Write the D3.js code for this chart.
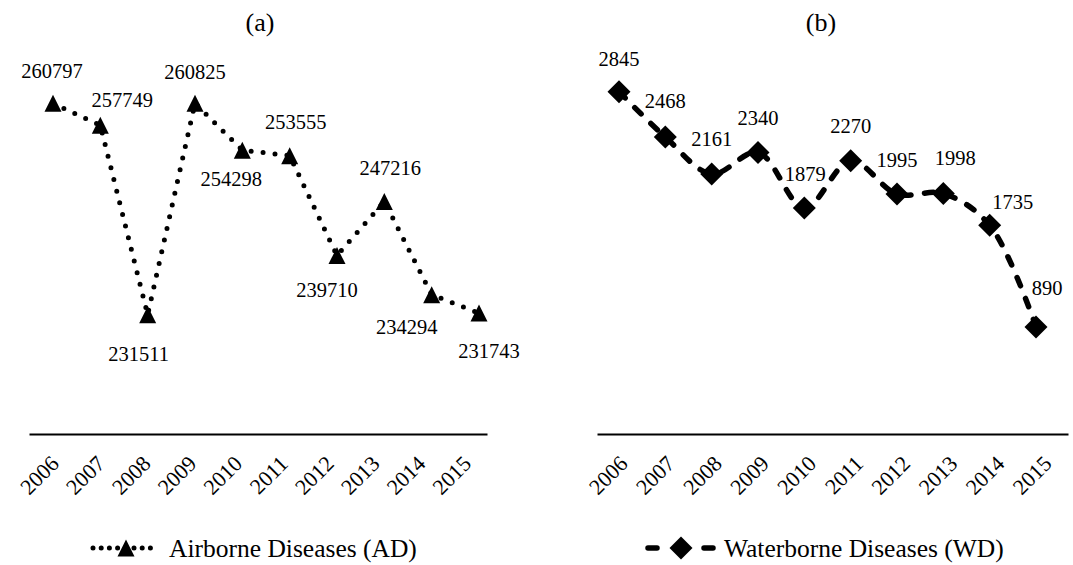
<!DOCTYPE html>
<html>
<head>
<meta charset="utf-8">
<script src="https://cdn.jsdelivr.net/npm/d3@7"></script>
<style>
  body { margin: 0; background: #fff; }
  svg { display: block; }
  svg text { font-family: "Liberation Serif", "Times New Roman", serif !important; }
</style>
</head>
<body>
<svg id="svg" width="1073" height="565"></svg>
<script>
// data
const years = ['2006', '2007', '2008', '2009', '2010', '2011', '2012', '2013', '2014', '2015'];
const airborne = [260797, 257749, 231511, 260825, 254298, 253555, 239710, 247216, 234294, 231743];
const waterborne = [2845, 2468, 2161, 2340, 1879, 2270, 1995, 1998, 1735, 890];
const airborneDomain = [215000, 265000];
const waterborneDomain = [0, 3000];

const serifFont = '"Liberation Serif", "Times New Roman", serif';
const svg = d3.select('#svg').style('font-family', serifFont);
const axisY = 434;
const topY = 73;

const trianglePath = 'M0,-8.5L8.5,8.5L-8.5,8.5Z';
const diamondPath = 'M0,-11.5L11.5,0L0,11.5L-11.5,0Z';

function drawPanel(cfg) {
  const g = svg.append('g');

  const xTick = d3.scalePoint().domain(years).range(cfg.axisRange).padding(0.5);
  const xPoint = d3.scalePoint().domain(years).range(cfg.pointRange);
  const y = d3.scaleLinear().domain(cfg.domain).range([axisY, topY]);

  // title
  g.append('text')
    .attr('x', cfg.titleX)
    .attr('y', 31)
    .attr('text-anchor', 'middle')
    .style('font-family', serifFont)
    .style('font-size', '26px')
    .text(cfg.title);

  // category axis
  const axis = g.append('g')
    .attr('transform', `translate(0,${axisY})`)
    .call(d3.axisBottom(xTick).tickSize(0).tickSizeOuter(0));
  axis.attr('font-family', null).attr('font-size', null);
  axis.select('.domain').attr('stroke', '#000').attr('stroke-width', 2);
  axis.selectAll('.tick text')
    .attr('y', null)
    .attr('dy', null)
    .attr('fill', '#000')
    .attr('text-anchor', 'end')
    .style('font-family', serifFont)
    .style('font-size', '22px')
    .attr('transform', 'translate(8,31) rotate(-45)');

  const pts = cfg.values.map((v, i) => ({year: years[i], value: v, off: cfg.labelOffsets[i]}));

  const line = d3.line()
    .x(d => xPoint(d.year))
    .y(d => y(d.value))
    .curve(cfg.curve);

  g.append('path')
    .datum(pts)
    .attr('d', line)
    .attr('fill', 'none')
    .attr('stroke', '#000')
    .attr('stroke-width', cfg.strokeWidth)
    .attr('stroke-linecap', 'round')
    .attr('stroke-dasharray', cfg.dash);

  g.selectAll('.marker')
    .data(pts)
    .enter()
    .append('path')
    .attr('class', 'marker')
    .attr('d', cfg.marker)
    .attr('transform', d => `translate(${xPoint(d.year)},${y(d.value)})`)
    .attr('fill', '#000');

  g.selectAll('.label')
    .data(pts)
    .enter()
    .append('text')
    .attr('class', 'label')
    .attr('x', d => xPoint(d.year) + d.off[0])
    .attr('y', d => y(d.value) + d.off[1])
    .attr('text-anchor', 'middle')
    .style('font-family', serifFont)
    .style('font-size', '20.5px')
    .text(d => d.value);

  // legend
  const lg = g.append('g').attr('transform', `translate(${cfg.legendX},548)`);
  lg.append('line')
    .attr('x1', 0).attr('x2', 65)
    .attr('stroke', '#000')
    .attr('stroke-width', cfg.strokeWidth)
    .attr('stroke-linecap', 'round')
    .attr('stroke-dasharray', cfg.legendDash);
  lg.append('path')
    .attr('d', cfg.marker)
    .attr('transform', 'translate(33,0)')
    .attr('fill', '#000');
  lg.append('text')
    .attr('x', 76)
    .attr('y', 9)
    .style('font-family', serifFont)
    .style('font-size', '25.5px')
    .text(cfg.legend);
}

drawPanel({
  title: '(a)',
  titleX: 260,
  values: airborne,
  domain: airborneDomain,
  axisRange: [29, 487],
  pointRange: [53, 479],
  curve: d3.curveLinear,
  strokeWidth: 5,
  dash: '0 12',
  legendDash: '0 8.2',
  marker: trianglePath,
  legend: 'Airborne Diseases (AD)',
  legendX: 93,
  labelOffsets: [[-1, -25], [22, -18], [-9, 46], [0, -24], [-11, 36], [6, -27], [-10, 41], [6, -26], [-25, 39], [10, 45]]
});

drawPanel({
  title: '(b)',
  titleX: 821,
  values: waterborne,
  domain: waterborneDomain,
  axisRange: [597, 1068],
  pointRange: [619, 1036],
  curve: d3.curveCatmullRom,
  strokeWidth: 5.5,
  dash: '9 13.5',
  legendDash: '9 47 9',
  marker: diamondPath,
  legend: 'Waterborne Diseases (WD)',
  legendX: 648,
  labelOffsets: [[0, -26], [0, -29], [0, -28], [0, -27], [1, -27], [0, -28], [0, -27], [12, -29], [23, -16], [11, -32]]
});
</script>
</body>
</html>
